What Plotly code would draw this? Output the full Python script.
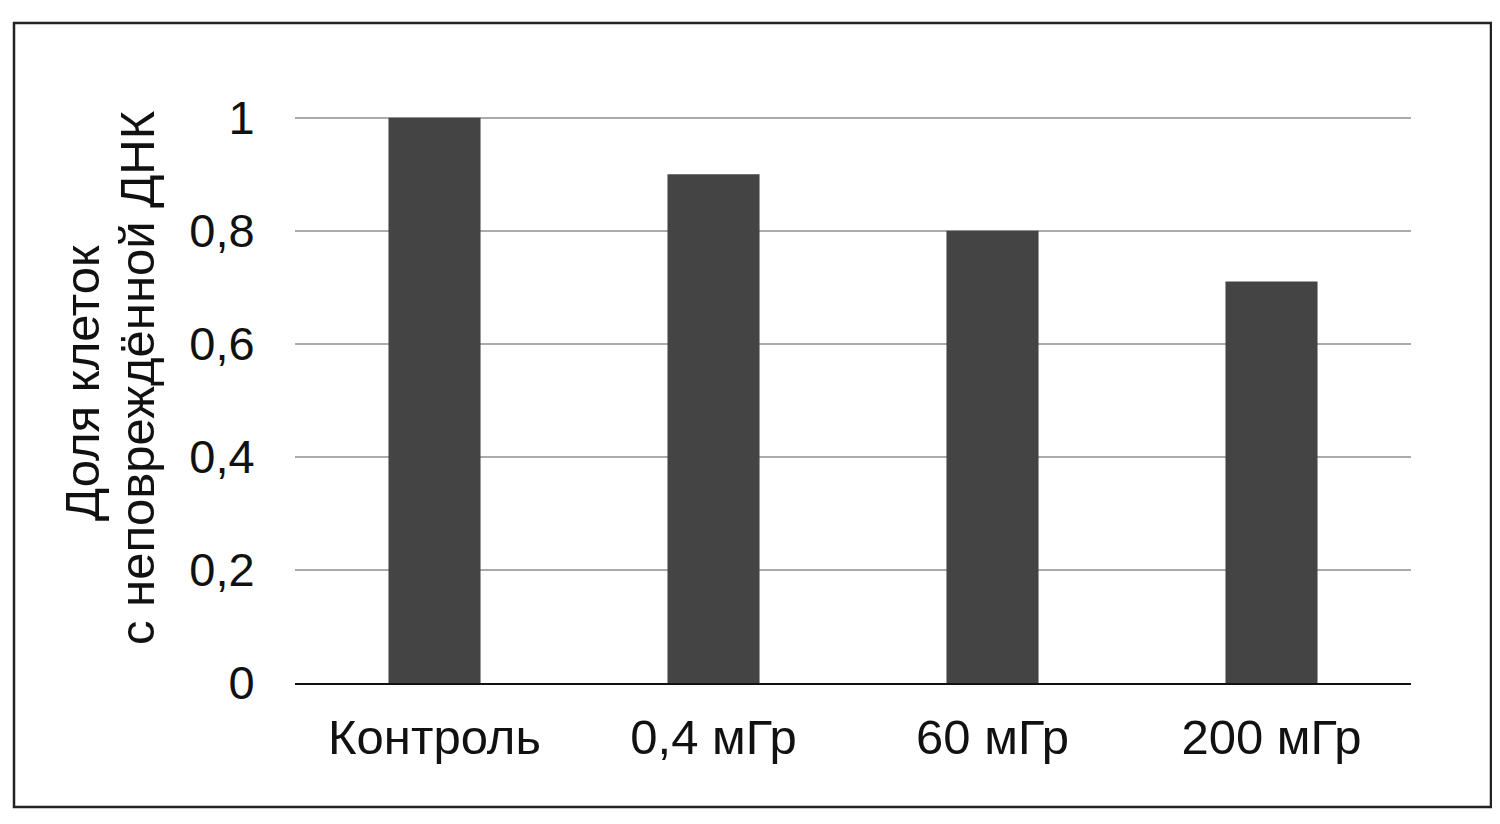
import plotly.graph_objects as go

categories = ["Контроль", "0,4 мГр", "60 мГр", "200 мГр"]
values = [1.0, 0.9, 0.8, 0.71]
y_ticks = [0, 0.2, 0.4, 0.6, 0.8, 1.0]
y_tick_labels = ["0", "0,2", "0,4", "0,6", "0,8", "1"]
y_title_lines = ["Доля клеток", "с неповреждённой ДНК"]

# page body has an 8px margin, so figure coordinates = screen - 8
W, H = 1492, 816
L, R, T, B = 287, 89, 104, 141
pw, ph = W - L - R, H - T - B
ymax = 1.01

def px_to_paper_x(px):
    return (px - L) / pw

def px_to_paper_y(py):
    return (H - B - py) / ph

fig = go.Figure()
fig.add_trace(go.Bar(
    x=categories, y=values,
    marker=dict(color="#444444", line=dict(width=0)),
    width=0.33,
))

title_pos = [(74, 375), (129, 370)]
annotations = []
for txt, (ax, ay) in zip(y_title_lines, title_pos):
    annotations.append(dict(
        text=txt, xref="paper", yref="paper",
        x=px_to_paper_x(ax), y=px_to_paper_y(ay),
        xanchor="center", yanchor="middle", textangle=-90,
        showarrow=False, font=dict(size=49, color="#111111"),
    ))

fig.update_layout(
    width=W, height=H,
    margin=dict(l=L, r=R, t=T, b=B),
    paper_bgcolor="white", plot_bgcolor="white",
    font=dict(family="Liberation Sans, Arial, sans-serif", color="#111111", size=47),
    showlegend=False,
    xaxis=dict(
        showgrid=False, showline=True, linecolor="#111111", linewidth=2,
        ticks="outside", ticklen=10, tickcolor="rgba(0,0,0,0)",
        tickfont=dict(size=49),
    ),
    yaxis=dict(
        range=[0, ymax],
        tickvals=y_ticks, ticktext=y_tick_labels,
        showgrid=True, gridcolor="#aaaaaa", gridwidth=1.5,
        zeroline=False, showline=False,
        ticks="outside", ticklen=30, tickcolor="rgba(0,0,0,0)",
        tickfont=dict(size=47),
    ),
    annotations=annotations,
    shapes=[dict(
        type="rect", xref="paper", yref="paper",
        x0=px_to_paper_x(6), x1=px_to_paper_x(1483),
        y0=px_to_paper_y(799), y1=px_to_paper_y(15),
        line=dict(color="#222222", width=2.5), fillcolor="rgba(0,0,0,0)",
        layer="below",
    )],
)

fig.write_html("out.html")
